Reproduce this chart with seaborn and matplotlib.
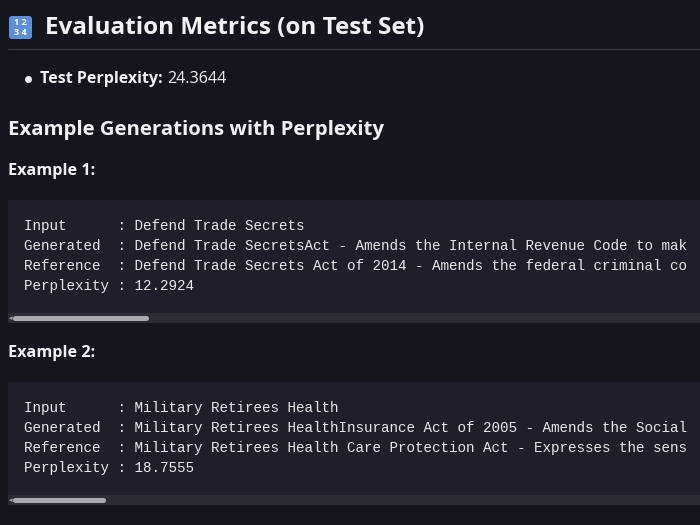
import matplotlib
matplotlib.use("Agg")
import matplotlib.pyplot as plt
import seaborn as sns
from matplotlib.patches import FancyBboxPatch, Rectangle

sns.set_theme(style="dark", rc={"figure.facecolor": "#15151e"})

title = "Evaluation Metrics (on Test Set)"
test_ppl = "24.3644"
section = "Example Generations with Perplexity"
labels = ["Input", "Generated", "Reference", "Perplexity"]
inputs = ["Defend Trade Secrets", "Military Retirees Health"]
# visible part of the (horizontally scrolled) code block
generated = ["Defend Trade SecretsAct - Amends the Internal Revenue Code to mak",
             "Military Retirees HealthInsurance Act of 2005 - Amends the Social"]
references = ["Defend Trade Secrets Act of 2014 - Amends the federal criminal co",
              "Military Retirees Health Care Protection Act - Expresses the sens"]
ppls = ["12.2924", "18.7555"]
thumb_w = [136, 93]

W, H = 700, 525
fig = plt.figure(figsize=(7, 5.25), dpi=100)
ax = fig.add_axes([0, 0, 1, 1])
ax.set_xlim(0, W)
ax.set_ylim(H, 0)
ax.axis("off")
ax.set_facecolor("#15151e")

fg = "#f2f2f5"
sans = "Open Sans"
mono = "Liberation Mono"

# emoji-like keycap box
ax.add_patch(FancyBboxPatch((9, 16), 23, 23, boxstyle="round,pad=0,rounding_size=3",
                            fc="#5d8fd8", ec="none"))
ax.text(20.5, 22.5, "1 2", color="white", fontsize=6.5, fontweight="bold",
        ha="center", va="center", family=sans)
ax.text(20.5, 32.5, "3 4", color="white", fontsize=6.5, fontweight="bold",
        ha="center", va="center", family=sans)

ax.text(45, 28, title, color=fg, fontsize=17.5, fontweight="bold", family=sans, va="center")
ax.plot([8, 700], [49, 49], color="#33343e", lw=1)

ax.plot(28, 79, "o", color=fg, ms=4)
ax.text(40, 79, "Test Perplexity:", color=fg, fontsize=11.5, fontweight="bold",
        family=sans, va="center")
ax.text(167, 79, test_ppl, color=fg, fontsize=11.5, family=sans, va="center")

ax.text(8, 130, section, color=fg, fontsize=14.7, fontweight="bold", family=sans, va="center")

for i in range(2):
    y0 = 171 + i * 182
    ax.text(8, y0, f"Example {i + 1}:", color=fg, fontsize=11.7, fontweight="bold",
            family=sans, va="center")
    top = y0 + 29
    ax.add_patch(Rectangle((8, top), 700, 113, fc="#1e1f2b", ec="none"))
    ax.add_patch(Rectangle((8, top + 113), 700, 10, fc="#2b2c35", ec="none"))
    ax.add_patch(FancyBboxPatch((13, top + 116), thumb_w[i], 5,
                                boxstyle="round,pad=0,rounding_size=2.5",
                                fc="#a9a9b0", ec="none"))
    ax.text(9, top + 118.5, "\u25c2", color="#a9a9b0", fontsize=5, va="center")
    vals = [inputs[i], generated[i], references[i], ppls[i]]
    for j, (lab, v) in enumerate(zip(labels, vals)):
        ax.text(24, top + 26 + j * 20, f"{lab:<11}: {v}", color="#e8e8ec",
                fontsize=10.3, family=mono, va="center")

fig.savefig("out.png", dpi=100, facecolor="#15151e")
